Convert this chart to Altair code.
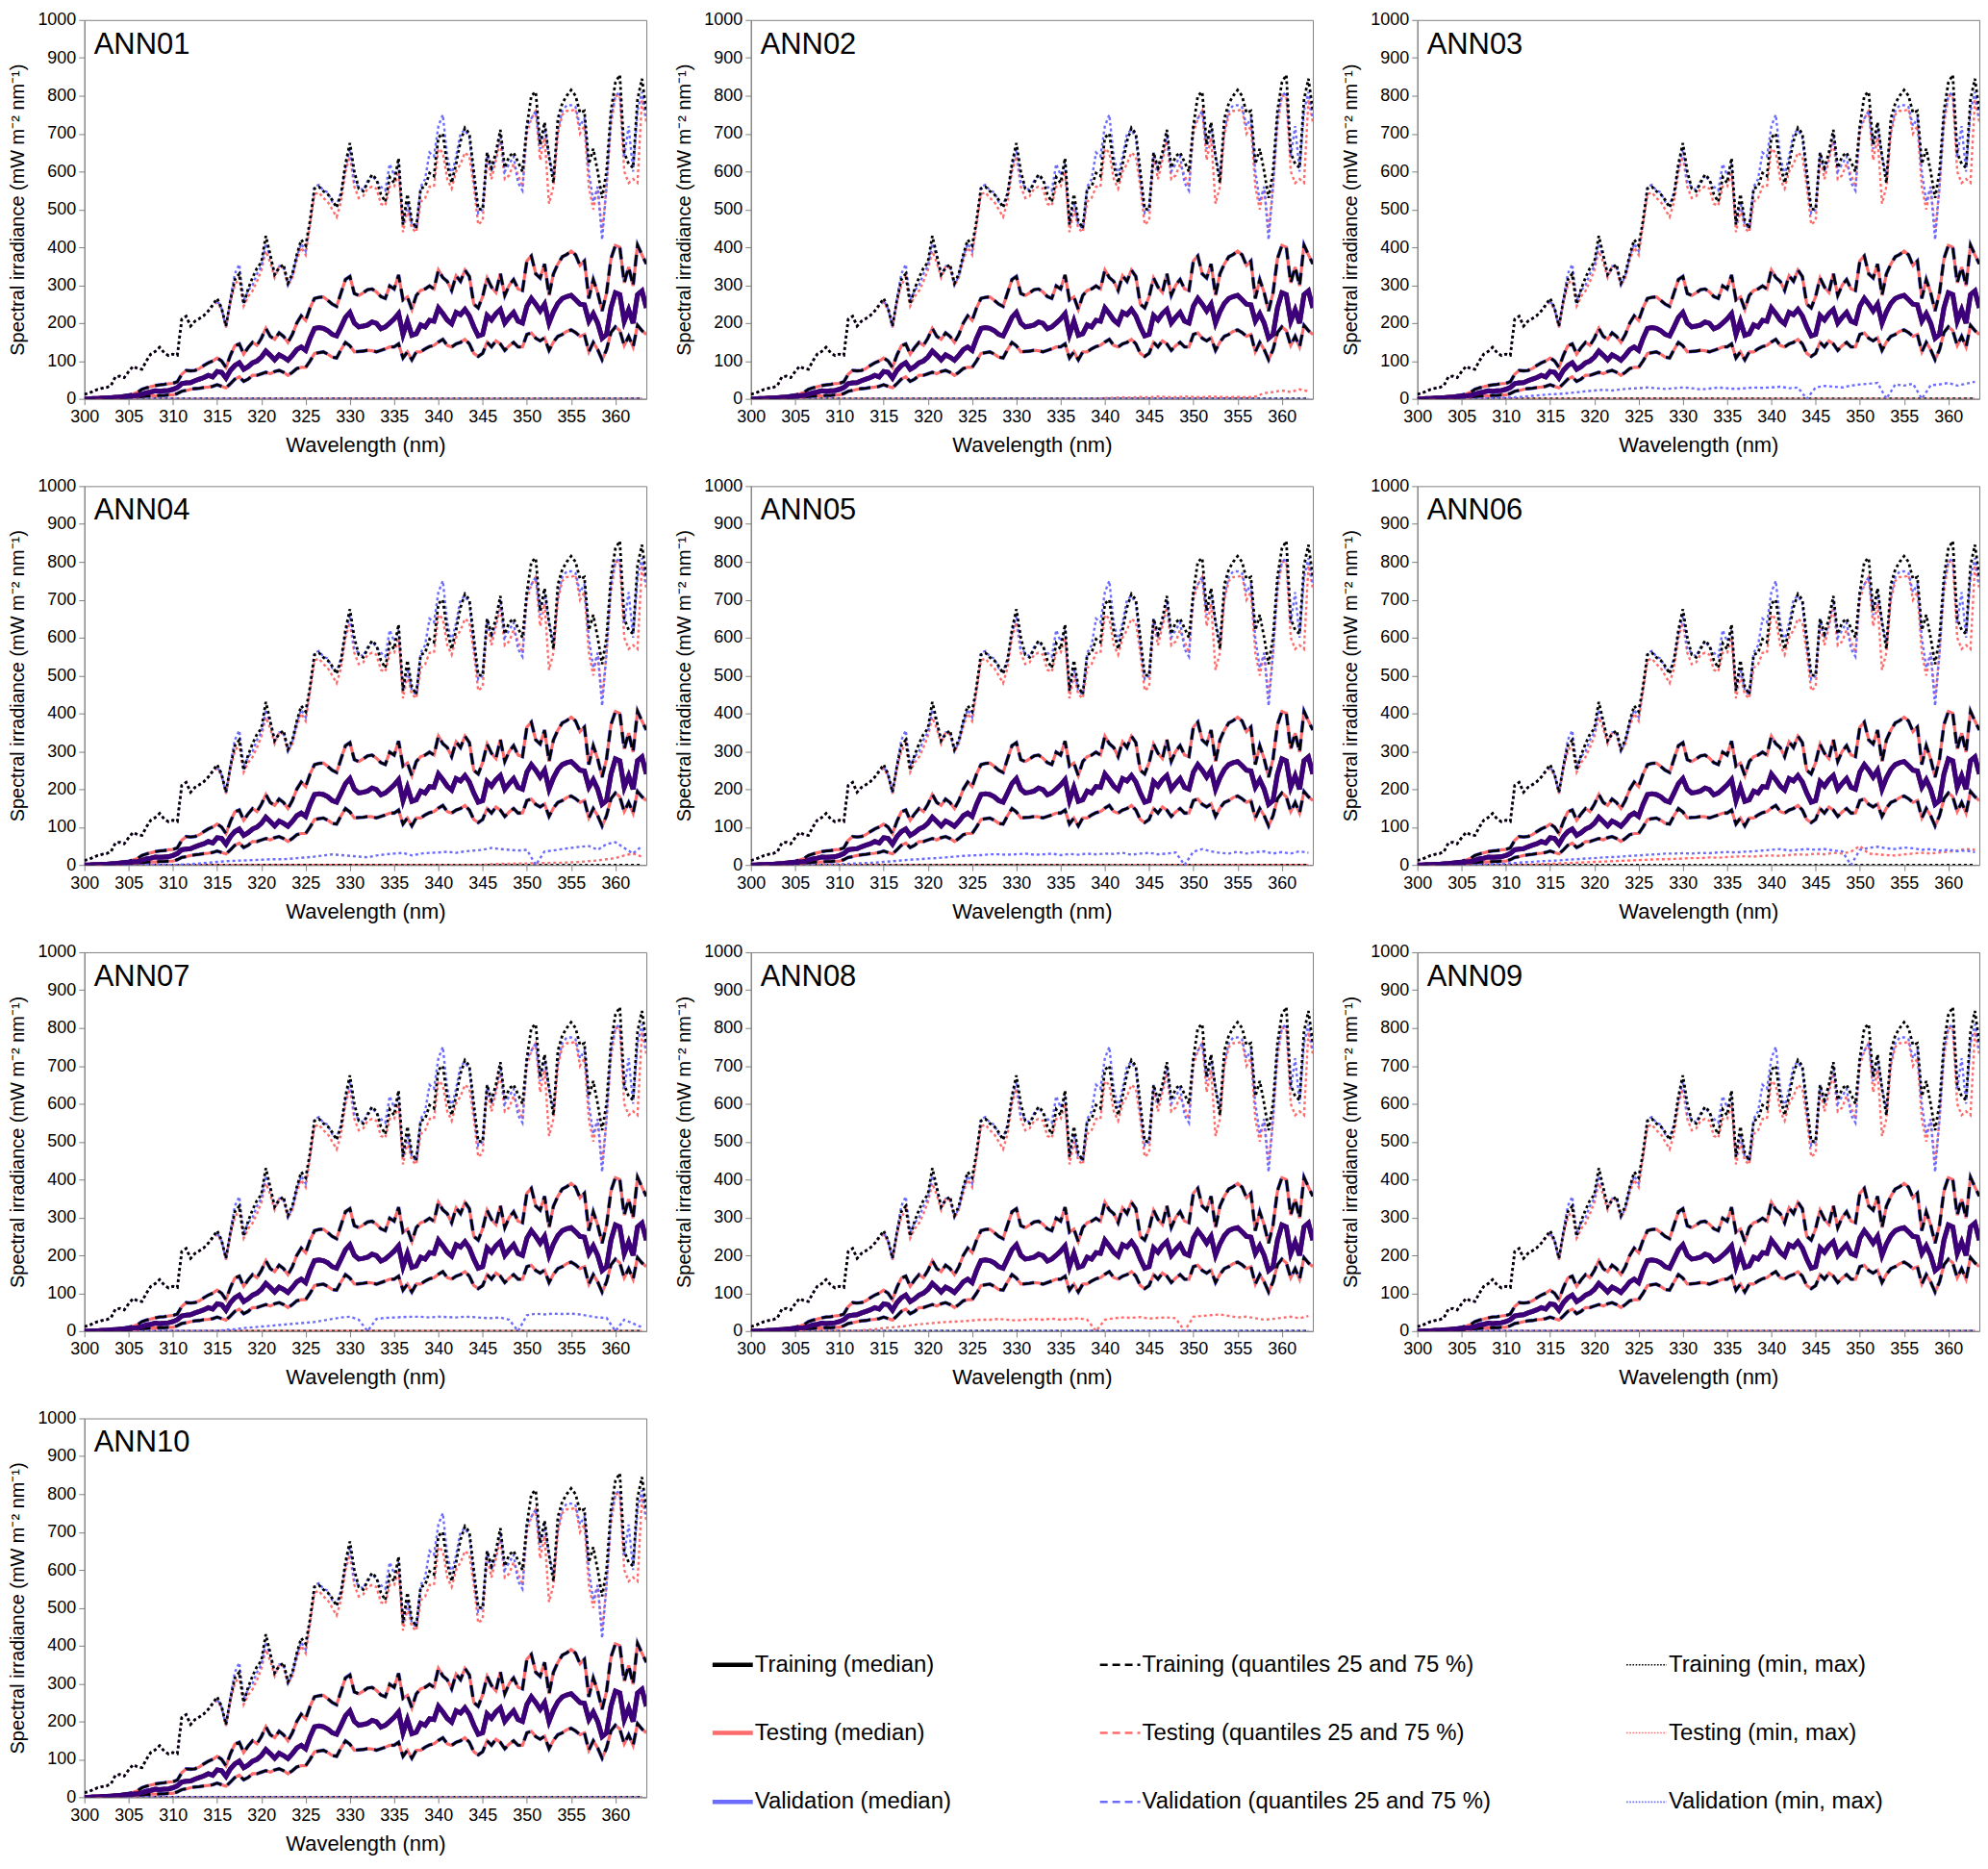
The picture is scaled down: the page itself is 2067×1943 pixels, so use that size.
import numpy as np
import pandas as pd
import altair as alt

# ---------------- data ----------------
wl = [round(300.0 + 0.5 * i, 1) for i in range(128)]          # 300.0 ... 363.5 nm
wl_min = list(range(300, 364))                                  # 300 ... 363 nm

train_max = [
    12, 15, 20, 25, 28, 30, 35, 58, 60, 56,
    72, 86, 80, 78, 100, 118, 125, 136, 122, 114,
    118, 115, 210, 218, 192, 205, 212, 220, 232, 248,
    265, 240, 192, 260, 315, 330, 250, 290, 320, 345,
    360, 430, 380, 328, 345, 355, 305, 330, 380, 420,
    405, 470, 555, 560, 548, 540, 525, 505, 540, 620,
    675, 600, 555, 548, 570, 592, 580, 540, 520, 585,
    570, 635, 460, 540, 470, 450, 555, 560, 596, 588,
    690, 700, 617, 570, 620, 680, 715, 700, 600, 501,
    500, 650, 610, 650, 710, 610, 640, 650, 625, 600,
    720, 800, 810, 671, 730, 640, 570, 740, 780, 800,
    815, 800, 755, 760, 620, 660, 600, 530, 600, 760,
    835, 855, 650, 620, 610, 790, 845, 760]

test_max = [
    12, 15, 20, 25, 28, 30, 35, 58, 60, 56,
    72, 86, 80, 78, 100, 118, 125, 136, 122, 114,
    118, 115, 210, 218, 192, 205, 212, 220, 232, 245,
    255, 235, 188, 255, 300, 320, 245, 270, 285, 310,
    340, 390, 360, 320, 350, 345, 298, 320, 365, 400,
    380, 460, 540, 545, 530, 520, 500, 480, 520, 600,
    640, 560, 530, 535, 555, 560, 555, 515, 510, 560,
    560, 600, 440, 500, 450, 440, 520, 530, 560, 560,
    660, 650, 580, 555, 600, 620, 650, 640, 560, 460,
    470, 640, 580, 630, 680, 580, 590, 620, 590, 560,
    700, 740, 760, 630, 690, 515, 560, 700, 750, 760,
    760, 765, 700, 720, 560, 500, 560, 440, 560, 720,
    800, 800, 600, 570, 580, 570, 790, 730]

val_max = [
    12, 15, 20, 25, 28, 30, 35, 58, 60, 56,
    72, 86, 80, 78, 100, 118, 125, 136, 122, 114,
    118, 115, 210, 218, 192, 205, 212, 220, 232, 248,
    260, 238, 190, 265, 330, 355, 260, 285, 300, 330,
    350, 410, 375, 328, 350, 350, 300, 325, 375, 410,
    390, 470, 560, 565, 550, 545, 520, 510, 545, 610,
    660, 570, 560, 550, 575, 590, 575, 560, 550, 620,
    590, 620, 460, 520, 460, 450, 560, 580, 650, 640,
    720, 750, 640, 590, 640, 700, 710, 690, 580, 490,
    500, 650, 600, 640, 700, 600, 620, 640, 570, 550,
    720, 740, 760, 660, 720, 640, 590, 710, 760, 775,
    775, 770, 720, 740, 600, 520, 560, 420, 560, 740,
    800, 810, 640, 720, 600, 760, 810, 740]

q75 = [
    0, 0, 1, 1, 2, 3, 4, 5, 6, 8,
    10, 13, 17, 25, 29, 32, 35, 37, 38, 40,
    41, 45, 65, 75, 74, 75, 80, 88, 95, 100,
    108, 100, 83, 115, 140, 145, 118, 135, 149, 141,
    160, 186, 165, 157, 174, 165, 149, 170, 200, 219,
    207, 240, 265, 268, 269, 260, 250, 244, 280, 315,
    323, 278, 273, 280, 288, 290, 282, 270, 265, 298,
    290, 327, 261, 269, 236, 273, 286, 290, 298, 290,
    340, 320, 310, 286, 325, 310, 340, 323, 250, 240,
    270, 319, 295, 281, 331, 273, 300, 315, 290, 286,
    364, 377, 330, 319, 356, 273, 330, 356, 375, 381,
    390, 380, 352, 364, 265, 315, 280, 232, 280, 370,
    405, 400, 306, 348, 298, 406, 380, 356]

median = [
    0, 0, 1, 1, 2, 2, 3, 4, 5, 6,
    7, 8, 9, 12, 16, 18, 21, 20, 21, 22,
    25, 30, 40, 42, 43, 48, 52, 56, 62, 58,
    72, 70, 55, 75, 88, 95, 78, 85, 95, 100,
    110, 126, 115, 103, 116, 110, 102, 115, 130, 137,
    128, 160, 186, 188, 186, 180, 170, 166, 190, 215,
    228, 200, 190, 192, 195, 203, 199, 185, 190, 200,
    211, 225, 170, 205, 168, 172, 195, 190, 207, 205,
    240, 225, 208, 198, 228, 222, 236, 219, 190, 166,
    170, 220, 208, 225, 236, 200, 215, 228, 205, 200,
    245, 265, 250, 232, 250, 200, 230, 252, 265, 270,
    273, 262, 250, 248, 205, 225, 200, 160, 170, 240,
    280, 275, 205, 235, 200, 275, 285, 240]

q25 = [
    0, 0, 0, 0, 1, 1, 1, 2, 2, 3,
    3, 4, 5, 6, 7, 8, 8, 9, 9, 10,
    10, 14, 20, 22, 25, 27, 28, 30, 31, 33,
    37, 33, 29, 40, 52, 58, 46, 52, 62, 62,
    66, 70, 66, 72, 75, 70, 62, 70, 80, 83,
    83, 100, 120, 122, 124, 118, 110, 108, 130, 149,
    140, 124, 125, 126, 128, 127, 124, 128, 132, 137,
    137, 145, 108, 124, 103, 124, 124, 132, 138, 141,
    150, 157, 141, 137, 145, 149, 157, 145, 120, 112,
    120, 149, 137, 153, 145, 128, 140, 149, 137, 137,
    170, 174, 160, 153, 161, 128, 150, 165, 170, 178,
    182, 175, 165, 170, 124, 149, 130, 103, 130, 175,
    190, 180, 141, 165, 137, 194, 180, 170]

panels = ["ANN01", "ANN02", "ANN03", "ANN04", "ANN05",
          "ANN06", "ANN07", "ANN08", "ANN09", "ANN10"]

zero_min = [0] * 64

min_test = {
    "ANN02": [0] * 40
    + [2, 3, 4, 3, 5, 4, 6, 5, 4, 6]
    + [5, 4, 6, 5, 4, 5, 4, 6, 15, 18]
    + [22, 18, 25, 20],
    "ANN04": [0] * 46
    + [2, 3, 3, 4, 4, 5, 5, 6, 6, 7, 8, 10, 12, 15, 18, 25, 30, 22],
    "ANN06": [0] * 10
    + [0, 0, 0, 1, 2, 3, 4, 5, 6, 7]
    + [8, 9, 10, 11, 12, 13, 14, 15, 15, 16]
    + [17, 18, 18, 20, 19, 21, 22, 23, 22, 24]
    + [25, 24, 26, 28, 27, 30, 28, 32, 30, 35]
    + [50, 30, 28, 26, 25, 28, 30, 32, 30, 33]
    + [35, 38, 42, 40],
    "ANN08": [0] * 10
    + [0, 0, 0, 3, 5, 8, 10, 12, 15, 18]
    + [20, 22, 24, 25, 26, 28, 30, 30, 32, 30]
    + [28, 30, 32, 30, 33, 30, 32, 34, 30, 0]
    + [30, 34, 36, 35, 37, 33, 35, 36, 34, 0]
    + [38, 40, 42, 44, 40, 36, 38, 34, 30, 32]
    + [35, 38, 34, 40],
}

min_val = {
    "ANN03": [0, 0, 0, 0, 0, 0, 0, 0, 1, 2]
    + [3, 4, 6, 8, 10, 12, 13, 15, 17, 20]
    + [22, 24, 22, 25, 27, 28, 30, 28, 26, 28]
    + [30, 28, 25, 27, 30, 28, 26, 28, 30, 29]
    + [30, 32, 28, 30, 0, 30, 34, 32, 30, 35]
    + [38, 40, 42, 0, 38, 35, 40, 0, 36, 38]
    + [42, 35, 40, 45],
    "ANN04": [0] * 10
    + [0, 1, 2, 4, 6, 8, 10, 11, 12, 13]
    + [14, 15, 15, 16, 18, 20, 22, 25, 28, 26]
    + [24, 22, 20, 25, 28, 30, 32, 25, 30, 32]
    + [33, 35, 32, 36, 38, 40, 45, 42, 40, 38]
    + [40, 0, 36, 38, 42, 45, 48, 50, 40, 55]
    + [60, 45, 30, 50],
    "ANN05": [0, 0, 0, 0, 0, 0, 0, 0, 0, 1]
    + [2, 3, 4, 5, 6, 8, 10, 12, 14, 15]
    + [17, 18, 20, 22, 24, 25, 26, 28, 28, 27]
    + [28, 30, 27, 28, 30, 26, 29, 27, 30, 28]
    + [30, 29, 32, 27, 30, 32, 28, 30, 33, 0]
    + [35, 42, 36, 32, 30, 35, 30, 34, 36, 30]
    + [34, 30, 36, 32],
    "ANN06": [0, 0, 0, 0, 0, 0, 0, 1, 2, 3]
    + [4, 5, 7, 8, 10, 11, 12, 14, 15, 17]
    + [18, 20, 21, 22, 24, 25, 27, 28, 30, 30]
    + [31, 30, 32, 31, 33, 34, 33, 35, 36, 38]
    + [40, 42, 38, 40, 42, 40, 42, 38, 36, 0]
    + [40, 45, 48, 44, 42, 46, 44, 40, 42, 38]
    + [40, 36, 38, 34],
    "ANN07": [0] * 10
    + [0, 0, 0, 0, 0, 0, 3, 5, 8, 10]
    + [12, 14, 16, 18, 20, 22, 24, 28, 32, 36]
    + [38, 30, 0, 32, 35, 36, 37, 38, 38, 36]
    + [38, 37, 36, 38, 37, 35, 34, 36, 30, 0]
    + [42, 46, 44, 46, 45, 46, 44, 40, 36, 35]
    + [0, 30, 20, 10],
}

for arr in (train_max, test_max, val_max, q75, median, q25):
    assert len(arr) == 128, len(arr)
for d in (min_test, min_val):
    for k, v in d.items():
        assert len(v) == 64, (k, len(v))

# legend text
leg_sets = ["Training", "Testing", "Validation"]
leg_stats = ["median", "quantiles 25 and 75 %", "min, max"]

# ---------------- styles ----------------
C_TRAIN = "#000000"
C_TEST = "#ff6b6b"
C_VAL = "#6b6bff"
FONT = "Liberation Sans"

W = 586          # plot width
H = 395          # plot height


def panel_frame(p):
    parts = []
    for key, arr in [("max_train", train_max), ("max_test", test_max),
                     ("max_val", val_max), ("q75", q75), ("median", median),
                     ("q25", q25)]:
        parts.append(pd.DataFrame({"wl": wl, "value": arr, "series": key}))
    parts.append(pd.DataFrame({"wl": wl_min, "value": zero_min, "series": "min_train"}))
    parts.append(pd.DataFrame({"wl": wl_min, "value": min_test.get(p, zero_min), "series": "min_test"}))
    parts.append(pd.DataFrame({"wl": wl_min, "value": min_val.get(p, zero_min), "series": "min_val"}))
    return pd.concat(parts, ignore_index=True)


DOT = [3, 3]
DASH = [12, 7]
# (series, color, width, dash, dashoffset, opacity) in drawing order
styles = [
    ("min_train", C_TRAIN, 2.6, DOT, 0, 1.0),
    ("min_test", C_TEST, 2.4, DOT, 3, 1.0),
    ("min_val", C_VAL, 2.4, DOT, 1.5, 1.0),
    ("max_test", C_TEST, 2.4, DOT, 0, 1.0),
    ("max_val", C_VAL, 2.4, DOT, 0, 1.0),
    ("max_train", C_TRAIN, 2.8, DOT, 0, 1.0),
    ("q75", C_TEST, 3.2, DASH, 9, 1.0),
    ("q75", C_VAL, 3.8, DASH, 0, 1.0),
    ("q75", C_TRAIN, 2.8, DASH, 0, 1.0),
    ("q25", C_TEST, 3.2, DASH, 9, 1.0),
    ("q25", C_VAL, 3.8, DASH, 0, 1.0),
    ("q25", C_TRAIN, 2.8, DASH, 0, 1.0),
    ("median", C_TRAIN, 5.0, None, 0, 1.0),
    ("median", "#ff0000", 5.0, None, 0, 0.45),
    ("median", "#0000ff", 5.0, None, 0, 0.48),
]

x_enc = alt.X("wl:Q",
              scale=alt.Scale(domain=[300, 363.5], nice=False, zero=False),
              axis=alt.Axis(values=list(range(300, 361, 5)), title="Wavelength (nm)"))
y_enc = alt.Y("value:Q",
              scale=alt.Scale(domain=[0, 1000], nice=False),
              axis=alt.Axis(values=list(range(0, 1001, 100)), format="d",
                            title="Spectral irradiance (mW m\u207b\u00b2 nm\u207b\u00b9)"))


def make_panel(p):
    layers = []
    for key, color, width, dash, off, op in styles:
        mk = dict(color=color, strokeWidth=width, clip=True)
        if dash:
            mk["strokeDash"] = dash
        if off:
            mk["strokeDashOffset"] = off
        if op < 1:
            mk["opacity"] = op
        layers.append(
            alt.Chart().mark_line(**mk)
            .encode(x=x_enc, y=y_enc)
            .transform_filter(alt.datum.series == key)
        )
    label = alt.Chart(pd.DataFrame({"name": [p]})).mark_text(
        align="left", baseline="top", fontSize=31, font=FONT, color="black"
    ).encode(x=alt.value(10), y=alt.value(11), text="name:N")
    return alt.layer(*layers, label, data=panel_frame(p)).properties(width=W, height=H)


# ---------------- legend ----------------
LW, LH = 1320, 440
col_x = [40, 444, 993]
row_y = [257, 328, 400]
leg_colors = [C_TRAIN, C_TEST, C_VAL]
rows = []
for i, s in enumerate(leg_sets):
    for j, st in enumerate(leg_stats):
        rows.append({"label": f"{s} ({st})", "col": j, "color": leg_colors[i],
                     "x0": col_x[j], "x1": col_x[j] + 42, "xt": col_x[j] + 44,
                     "y": row_y[i]})
leg_df = pd.DataFrame(rows)

lx = alt.Scale(domain=[0, LW], nice=False, zero=False)
ly = alt.Scale(domain=[0, LH], nice=False, zero=False, reverse=True)
leg_styles = [(0, 4.5, None), (1, 2.5, [8, 5]), (2, 1.6, [1.6, 1.6])]
leg_layers = []
for j, w, dash in leg_styles:
    mk = dict(strokeWidth=w)
    if dash:
        mk["strokeDash"] = dash
    leg_layers.append(
        alt.Chart(leg_df[leg_df.col == j]).mark_rule(**mk).encode(
            x=alt.X("x0:Q", scale=lx, axis=None),
            x2="x1:Q",
            y=alt.Y("y:Q", scale=ly, axis=None),
            color=alt.Color("color:N", scale=None),
        )
    )
leg_layers.append(
    alt.Chart(leg_df).mark_text(align="left", baseline="middle", fontSize=24,
                                font=FONT, color="black").encode(
        x=alt.X("xt:Q", scale=lx, axis=None),
        y=alt.Y("y:Q", scale=ly, axis=None),
        text="label:N",
    )
)
legend = alt.layer(*leg_layers).properties(
    width=LW, height=LH, view=alt.ViewBackground(strokeOpacity=0))

# ---------------- layout ----------------
HS = 28
VS = 21
pc = [make_panel(p) for p in panels]
row1 = alt.hconcat(pc[0], pc[1], pc[2], spacing=HS)
row2 = alt.hconcat(pc[3], pc[4], pc[5], spacing=HS)
row3 = alt.hconcat(pc[6], pc[7], pc[8], spacing=HS)
row4 = alt.hconcat(pc[9], legend, spacing=HS)

chart = (
    alt.vconcat(row1, row2, row3, row4, spacing=VS)
    .properties(padding={"left": 0, "right": 0, "top": 0, "bottom": 0})
    .configure(font=FONT)
    .configure_view(stroke="#808080", strokeWidth=1)
    .configure_axis(grid=False, labelFont=FONT, titleFont=FONT,
                    labelFontSize=18, labelColor="black", titleColor="black",
                    titleFontWeight="normal", domainColor="#808080",
                    tickColor="#808080", tickSize=6, labelFlush=False)
    .configure_axisX(titleFontSize=22, titlePadding=10, labelPadding=4)
    .configure_axisY(titleFontSize=20, titlePadding=10, labelPadding=3)
)

chart.save("out.html", embed_options={"renderer": "svg", "actions": False})
